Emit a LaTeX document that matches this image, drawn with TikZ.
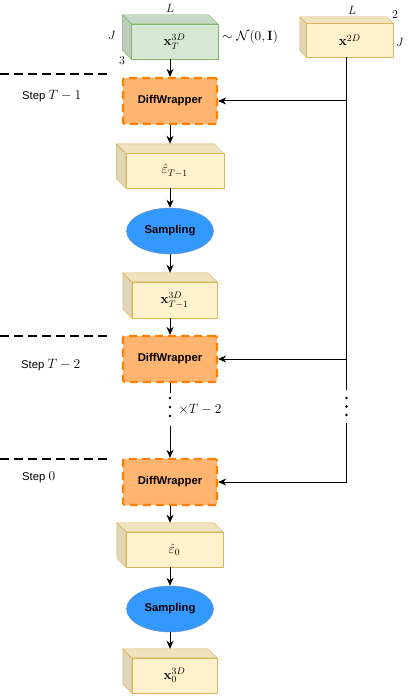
\RequirePackage{fix-cm}
\documentclass[tikz,border=0pt]{standalone}
\usepackage{amsmath}
\usepackage{amssymb}
\usepackage[no-math]{fontspec}
\setmainfont{Liberation Sans}
\usetikzlibrary{arrows.meta,calc,shapes.geometric}

\definecolor{greenfill}{HTML}{D5E8D4}
\definecolor{greenline}{HTML}{82B366}
\definecolor{yellowfill}{HTML}{FFF2CC}
\definecolor{yellowline}{HTML}{D6B656}
\definecolor{wrapfill}{HTML}{FFB570}
\definecolor{wrapline}{HTML}{FF8000}
\definecolor{samplefill}{HTML}{3399FF}
\definecolor{sampleline}{HTML}{6C8EBF}

\tikzset{
	mathlbl/.style={font=\fontsize{13.5}{16}\selectfont, inner sep=1pt},
	dimlbl/.style={font=\fontsize{12}{14}\selectfont, inner sep=0pt},
	wrapper/.style={draw=wrapline, fill=wrapfill, line width=2.2pt,
		dash pattern=on 8pt off 5pt, rounded corners=2pt,
		minimum width=94pt, minimum height=46pt,
		font=\fontsize{11.3}{13}\selectfont\bfseries},
	sampler/.style={ellipse, draw=sampleline, fill=samplefill,
		minimum width=87pt, minimum height=46pt, inner sep=0pt,
		font=\fontsize{11.3}{13}\selectfont\bfseries},
	arr/.style={-{Stealth[length=8pt,width=7pt,inset=2.5pt]}, line width=1pt},
	stepline/.style={line width=1.6pt, dash pattern=on 9pt off 5pt},
	steplbl/.style={anchor=west, inner sep=0pt, font=\fontsize{11.3}{13}\selectfont},
}

% name, centre, width, height, depth, colour
\newcommand{\cuboid}[6]{%
	\node[minimum width=#3, minimum height=#4, inner sep=0pt] (#1) at (#2) {};
	\filldraw[fill=#6fill!94!black, draw=#6line] (#1.north west) -- ($(#1.north east)+(-#5,0)$)
		-- ($(#1.north east)+(0,-#5)$) -- ($(#1.north west)+(#5,-#5)$) -- cycle;
	\filldraw[fill=#6fill!88!black, draw=#6line] (#1.north west) -- ($(#1.north west)+(#5,-#5)$)
		-- ($(#1.south west)+(#5,0)$) -- ($(#1.south west)+(0,#5)$) -- cycle;
	\filldraw[fill=#6fill, draw=#6line] ($(#1.north west)+(#5,-#5)$) rectangle (#1.south east);
}
\newcommand{\cubelabel}[3]{%
	\node[mathlbl] (#1l) at ($(#1.center)+(#2/2,-#2/2)$) {#3};
}

\begin{document}
\begin{tikzpicture}[x=1pt, y=1pt]
	\useasboundingbox (0,0) rectangle (416,-698);

	% step separators
	\draw[stepline] (0,-74) -- (107,-74);
	\draw[stepline] (0,-336) -- (107,-336);
	\draw[stepline] (0,-459) -- (107,-459);

	\node[steplbl] (stepA) at (22,-96) {Step \fontsize{13.5}{16}\selectfont$T-1$};
	\node[steplbl] (stepB) at (21,-365) {Step \fontsize{13.5}{16}\selectfont$T-2$};
	\node[steplbl] (stepC) at (22,-477) {Step \fontsize{13.5}{16}\selectfont$0$};

	% inputs
	\cuboid{xT}{170,-37}{95pt}{44pt}{9}{green}
	\cubelabel{xT}{9}{$\mathbf{x}_T^{3D}$}
	\node[dimlbl] (xTL) at (170,-8) {$L$};
	\node[dimlbl] (xTJ) at (112,-35) {$J$};
	\node[dimlbl] (xT3) at (122,-61) {$3$};
	\node[mathlbl, anchor=west] (noise) at (221,-37) {$\sim\mathcal{N}(0,\mathbf{I})$};

	\cuboid{xtwo}{346.5,-37}{93pt}{40pt}{6.5}{yellow}
	\cubelabel{xtwo}{6.5}{$\mathbf{x}^{2D}$}
	\node[dimlbl] (xtwoL) at (352,-10) {$L$};
	\node[dimlbl] (xtwo2) at (395,-15) {$2$};
	\node[dimlbl] (xtwoJ) at (400,-42) {$J$};

	% main chain
	\node[wrapper] (dw1) at (170,-101) {DiffWrapper};
	\cuboid{epsA}{170,-166}{107pt}{44pt}{9.5}{yellow}
	\cubelabel{epsA}{9.5}{$\hat{\varepsilon}_{T-1}$}
	\node[sampler] (sampA) at (170,-231) {Sampling};
	\cuboid{xTm}{170,-295.5}{94pt}{45pt}{9}{yellow}
	\cubelabel{xTm}{9}{$\mathbf{x}_{T-1}^{3D}$}
	\node[wrapper] (dw2) at (170,-359) {DiffWrapper};
	\node[wrapper] (dw3) at (170,-482) {DiffWrapper};
	\cuboid{epsB}{170,-545}{106pt}{44pt}{9}{yellow}
	\cubelabel{epsB}{9}{$\hat{\varepsilon}_0$}
	\node[sampler] (sampB) at (170,-609) {Sampling};
	\cuboid{xZ}{170,-671}{94pt}{44pt}{9}{yellow}
	\cubelabel{xZ}{9}{$\mathbf{x}_0^{3D}$}

	\node[mathlbl] (reps) at (200,-409) {$\times T-2$};

	\draw[arr] (xT) -- (dw1);
	\draw[arr] (dw1) -- (epsA);
	\draw[arr] (epsA) -- (sampA);
	\draw[arr] (sampA) -- (xTm);
	\draw[arr] (xTm) -- (dw2);
	\coordinate (gapA) at (170,-393);
	\coordinate (gapB) at (170,-426);
	\draw[line width=1pt] (dw2) -- (gapA);
	\draw[arr] (gapB) -- (dw3);
	\draw[arr] (dw3) -- (epsB);
	\draw[arr] (epsB) -- (sampB);
	\draw[arr] (sampB) -- (xZ);

	% conditioning line
	\coordinate (gapC) at (346.5,-390);
	\coordinate (gapD) at (346.5,-423);
	\coordinate (tapA) at (gapC |- dw1.east);
	\coordinate (tapB) at (gapC |- dw2.east);
	\coordinate (tapC) at (gapD |- dw3.east);
	\draw[line width=1pt] (xtwo) -- (gapC);
	\draw[line width=1pt] (gapD) -- (tapC);
	\draw[arr] (tapA) -- (dw1);
	\draw[arr] (tapB) -- (dw2);
	\draw[arr] (tapC) -- (dw3);

	\foreach \y in {398,407,416} \fill (170,-\y) circle (1.3pt);
	\foreach \y in {398,406.5,415} \fill (346.5,-\y) circle (1.3pt);

\end{tikzpicture}
\end{document}
